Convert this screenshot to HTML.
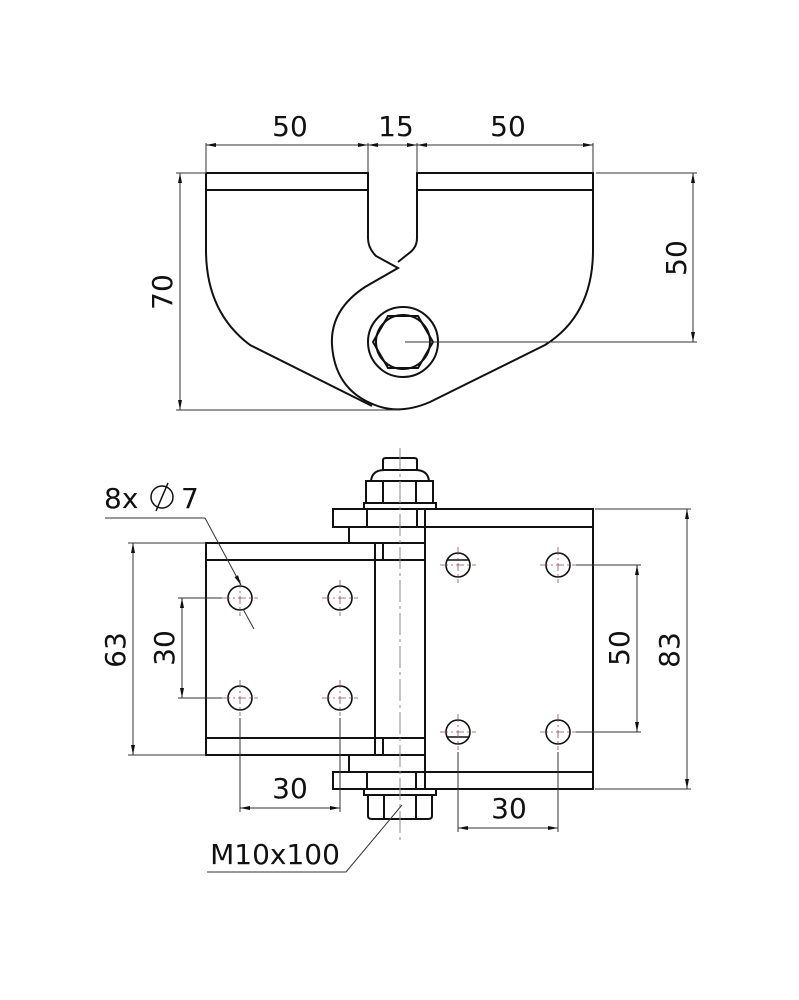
<!DOCTYPE html>
<html><head><meta charset="utf-8"><style>
body{margin:0;background:#fff}
svg{display:block}
text{font-family:"DejaVu Sans","Liberation Sans",sans-serif;font-size:28px;fill:#111}
</style></head><body>
<svg width="799" height="1000" viewBox="0 0 799 1000" xmlns="http://www.w3.org/2000/svg">
<defs>
<marker id="a" viewBox="0 0 10 4" refX="10" refY="2" markerWidth="12" markerHeight="4" orient="auto-start-reverse" markerUnits="userSpaceOnUse"><path d="M0,0 L10,2 L0,4 z" fill="#111"/></marker>
</defs>
<!-- TOP VIEW -->
<g fill="none" stroke="#111" stroke-width="2">
<path d="M206,173 H368 V238 Q368,248 376,256 L398,268 L365,287 Q330,310 332,345 Q335,390 375,405 Q400,415 430,402 L545,345 Q593,315 593,250 V173 H417 V238 Q417,248 408,254 L398,262"/>
<path d="M206,173 V250 Q206,312 250,345 L372,406"/>
<line x1="206" y1="190" x2="368" y2="190"/>
<line x1="417" y1="190" x2="593" y2="190"/>
<circle cx="403" cy="342" r="35"/>
<circle cx="403" cy="342" r="27"/>
<polygon points="373,342 388,316 418,316 433,342 418,368 388,368"/>
</g>
<g stroke="#333" stroke-width="1" fill="none">
<line x1="206" y1="143" x2="206" y2="173"/><line x1="368" y1="143" x2="368" y2="173"/><line x1="417" y1="143" x2="417" y2="173"/><line x1="593" y1="143" x2="593" y2="173"/>
<line x1="206" y1="145" x2="368" y2="145" marker-start="url(#a)" marker-end="url(#a)"/>
<line x1="368" y1="145" x2="417" y2="145" marker-start="url(#a)" marker-end="url(#a)"/>
<line x1="417" y1="145" x2="593" y2="145" marker-start="url(#a)" marker-end="url(#a)"/>
<line x1="176" y1="173" x2="206" y2="173"/><line x1="176" y1="410" x2="400" y2="410"/>
<line x1="180" y1="173" x2="180" y2="410" marker-start="url(#a)" marker-end="url(#a)"/>
<line x1="596" y1="173" x2="697" y2="173"/><line x1="405" y1="342" x2="697" y2="342"/>
<line x1="693" y1="173" x2="693" y2="342" marker-start="url(#a)" marker-end="url(#a)"/>
</g>
<text x="290" y="136" text-anchor="middle">50</text>
<text x="396" y="136" text-anchor="middle">15</text>
<text x="508" y="136" text-anchor="middle">50</text>
<text transform="translate(172,292) rotate(-90)" text-anchor="middle">70</text>
<text transform="translate(686,258) rotate(-90)" text-anchor="middle">50</text>

<!-- BOTTOM VIEW -->
<g fill="none" stroke="#111" stroke-width="2">
<path d="M383,470 V460 Q383,458 386,458 H414 Q417,458 417,460 V470"/>
<path d="M371,481 Q372,470 385,470 H415 Q428,470 429,481"/>
<rect x="366" y="481" width="67" height="22"/><line x1="383" y1="481" x2="383" y2="503"/><line x1="416" y1="481" x2="416" y2="503"/>
<rect x="364" y="503" width="72" height="6"/>
<rect x="333" y="509" width="260" height="18"/>
<line x1="367" y1="509" x2="367" y2="527"/><line x1="417" y1="509" x2="417" y2="527"/>
<line x1="349" y1="527" x2="349" y2="543"/>
<path d="M425,509 V789 M593,527 V772"/>
<rect x="206" y="543" width="169" height="212"/>
<line x1="206" y1="560" x2="375" y2="560"/><line x1="206" y1="738" x2="375" y2="738"/>
<line x1="349" y1="543" x2="425" y2="543"/><line x1="349" y1="560" x2="425" y2="560"/>
<line x1="349" y1="738" x2="425" y2="738"/><line x1="349" y1="755" x2="425" y2="755"/>
<line x1="383" y1="543" x2="383" y2="560"/><line x1="383" y1="738" x2="383" y2="755"/>
<line x1="349" y1="755" x2="349" y2="772"/>
<rect x="333" y="772" width="260" height="17"/>
<line x1="367" y1="772" x2="367" y2="789"/><line x1="416" y1="772" x2="416" y2="789"/>
<rect x="364" y="789" width="72" height="6"/>
<path d="M368,795 V816 Q368,819 372,819 H428 Q432,819 432,816 V795"/>
<line x1="384" y1="795" x2="384" y2="819"/><line x1="416" y1="795" x2="416" y2="819"/>
<g stroke-width="1.6">
<circle cx="240" cy="598" r="12"/><circle cx="340" cy="598" r="12"/><circle cx="240" cy="698" r="12"/><circle cx="340" cy="698" r="12"/>
<circle cx="458" cy="565" r="12"/><circle cx="558" cy="565" r="12"/><circle cx="458" cy="732" r="12"/><circle cx="558" cy="732" r="12"/>
<line x1="447" y1="560" x2="469" y2="560"/><line x1="447" y1="737" x2="469" y2="737"/>
</g>
</g>
<g stroke="#8a5050" stroke-width="0.8" stroke-dasharray="8,3,2,3" fill="none">
<path d="M222,598 H258 M240,580 V616 M322,598 H358 M340,580 V616 M222,698 H258 M240,680 V716 M322,698 H358 M340,680 V716"/>
<path d="M440,565 H476 M458,547 V583 M540,565 H576 M558,547 V583 M440,732 H476 M458,714 V750 M540,732 H576 M558,714 V750"/>
</g>
<line x1="400" y1="448" x2="400" y2="840" stroke="#888" stroke-width="1" stroke-dasharray="22,4,3,4"/>
<g stroke="#333" stroke-width="1" fill="none">
<line x1="128" y1="543" x2="206" y2="543"/><line x1="128" y1="755" x2="206" y2="755"/>
<line x1="133" y1="543" x2="133" y2="755" marker-start="url(#a)" marker-end="url(#a)"/>
<line x1="178" y1="598" x2="222" y2="598"/><line x1="178" y1="698" x2="222" y2="698"/>
<line x1="182" y1="598" x2="182" y2="698" marker-start="url(#a)" marker-end="url(#a)"/>
<line x1="240" y1="718" x2="240" y2="812"/><line x1="340" y1="718" x2="340" y2="812"/>
<line x1="240" y1="808" x2="340" y2="808" marker-start="url(#a)" marker-end="url(#a)"/>
<line x1="576" y1="565" x2="641" y2="565"/><line x1="576" y1="732" x2="641" y2="732"/>
<line x1="637" y1="565" x2="637" y2="732" marker-start="url(#a)" marker-end="url(#a)"/>
<line x1="595" y1="509" x2="691" y2="509"/><line x1="595" y1="789" x2="691" y2="789"/>
<line x1="687" y1="509" x2="687" y2="789" marker-start="url(#a)" marker-end="url(#a)"/>
<line x1="458" y1="752" x2="458" y2="832"/><line x1="558" y1="752" x2="558" y2="832"/>
<line x1="458" y1="828" x2="558" y2="828" marker-start="url(#a)" marker-end="url(#a)"/>
<polyline points="105,518 205,518"/>
<line x1="205" y1="518" x2="241" y2="585" marker-end="url(#a)"/>
<line x1="243" y1="609" x2="254" y2="629"/>
<polyline points="207,872 346,872 402,805"/>
</g>
<text x="104" y="508">8x</text>
<circle cx="162" cy="497" r="11" fill="none" stroke="#111" stroke-width="1.5"/>
<line x1="168" y1="483" x2="156" y2="511" stroke="#111" stroke-width="1.5"/>
<text x="181" y="508">7</text>
<text transform="translate(125,650) rotate(-90)" text-anchor="middle">63</text>
<text transform="translate(174,648) rotate(-90)" text-anchor="middle">30</text>
<text x="290" y="798" text-anchor="middle">30</text>
<text transform="translate(629,648) rotate(-90)" text-anchor="middle">50</text>
<text transform="translate(679,650) rotate(-90)" text-anchor="middle">83</text>
<text x="509" y="818" text-anchor="middle">30</text>
<text x="275" y="864" text-anchor="middle">M10x100</text>
</svg>
</body></html>
